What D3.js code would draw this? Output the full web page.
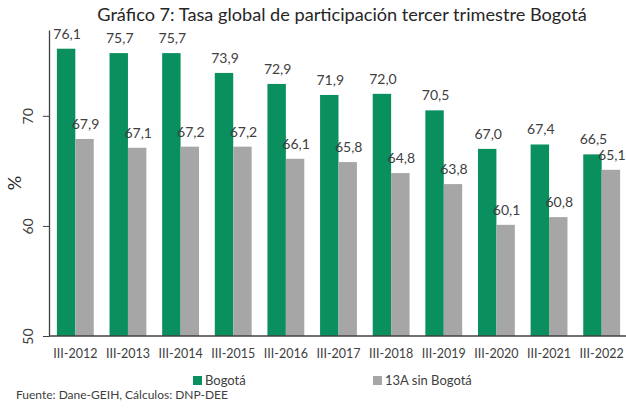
<!DOCTYPE html>
<html lang="es">
<head>
    <meta charset="UTF-8">
    <title>Gráfico 7</title>
    <script src="https://d3js.org/d3.v7.min.js"></script>
    <style>
        body { margin: 0; background: #fff; }
        text { font-family: Lato, "Open Sans", sans-serif; }
        .val { font-size: 14px; fill: #404040; text-anchor: middle; }
        .tick text { font-size: 13px; fill: #404040; }
    </style>
</head>
<body>
    <script>
        const categories = ["III-2012", "III-2013", "III-2014", "III-2015", "III-2016", "III-2017",
            "III-2018", "III-2019", "III-2020", "III-2021", "III-2022"];
        const bogota = [76.1, 75.7, 75.7, 73.9, 72.9, 71.9, 72.0, 70.5, 67.0, 67.4, 66.5];
        const sinBogota = [67.9, 67.1, 67.2, 67.2, 66.1, 65.8, 64.8, 63.8, 60.1, 60.8, 65.1];
        const yTicks = [50, 60, 70];
        const seriesNames = ["Bogotá", "13A sin Bogotá"];
        const colors = ["#0a8f5f", "#a6a6a6"];

        const W = 626, H = 408;
        const svg = d3.select("body").append("svg")
            .attr("width", W)
            .attr("height", H);

        const x = d3.scaleBand()
            .domain(categories)
            .range([49, 628])
            .paddingInner(0.3)
            .paddingOuter(0.15);

        const xs = d3.scaleBand()
            .domain([0, 1])
            .range([0, x.bandwidth()]);

        const y = d3.scaleLinear()
            .domain([50, 77.8])
            .range([336, 30]);

        const fmt = v => d3.format(".1f")(v).replace(".", ",");

        // title
        const title = svg.append("text")
            .attr("x", 342)
            .attr("y", 21)
            .attr("text-anchor", "middle")
            .attr("fill", "#262626")
            .style("font-size", "18px")
            .text("Gráfico 7: Tasa global de participación tercer trimestre Bogotá");
        const tw = title.node().getComputedTextLength();
        title.style("font-size", (18 * 490 / tw) + "px");

        const series = [bogota, sinBogota];
        series.forEach((vals, s) => {
            const g = svg.append("g");
            g.selectAll("rect")
                .data(vals)
                .enter().append("rect")
                .attr("x", (d, i) => x(categories[i]) + xs(s))
                .attr("y", d => y(d))
                .attr("width", xs.bandwidth())
                .attr("height", d => y(50) - y(d))
                .attr("fill", colors[s]);
            g.selectAll("text")
                .data(vals)
                .enter().append("text")
                .attr("class", "val")
                .attr("x", (d, i) => x(categories[i]) + xs(s) + xs.bandwidth() / 2 + 1)
                .attr("y", d => y(d) - 10)
                .text(d => fmt(d));
        });

        // y axis
        const yAxis = svg.append("g")
            .attr("transform", "translate(49,0)")
            .call(d3.axisLeft(y).tickValues(yTicks).tickSize(6).tickSizeOuter(0).tickFormat(d3.format("d")));
        yAxis.select(".domain").attr("stroke", "#404040").attr("stroke-width", 1.3);
        yAxis.selectAll(".tick line").attr("stroke", "#404040");
        yAxis.selectAll(".tick text")
            .attr("transform", "rotate(-90)")
            .attr("text-anchor", "middle")
            .attr("x", 0)
            .attr("y", -16)
            .attr("dy", 0)
            .style("font-size", "14px");

        svg.append("text")
            .attr("transform", "translate(21,183) rotate(-90)")
            .attr("text-anchor", "middle")
            .attr("fill", "#262626")
            .style("font-size", "18px")
            .text("%");

        // x axis
        const xAxis = svg.append("g")
            .attr("transform", "translate(0,336)")
            .call(d3.axisBottom(x).tickSize(0).tickPadding(13));
        xAxis.select(".domain").attr("d", "M49,0H626").attr("stroke", "#404040").attr("stroke-width", 1.5);
        xAxis.selectAll(".tick text").style("font-size", "12.5px").attr("fill", "#404040");

        // legend
        const legend = svg.append("g");
        const lx = [193, 373];
        seriesNames.forEach((name, i) => {
            legend.append("rect")
                .attr("x", lx[i])
                .attr("y", 376)
                .attr("width", 9)
                .attr("height", 9)
                .attr("fill", colors[i]);
            legend.append("text")
                .attr("x", lx[i] + 12)
                .attr("y", 385)
                .attr("fill", "#404040")
                .style("font-size", "13px")
                .text(name);
        });

        svg.append("text")
            .attr("x", 16)
            .attr("y", 399)
            .attr("fill", "#404040")
            .style("font-size", "12px")
            .text("Fuente: Dane-GEIH, Cálculos: DNP-DEE");
    </script>
</body>
</html>
